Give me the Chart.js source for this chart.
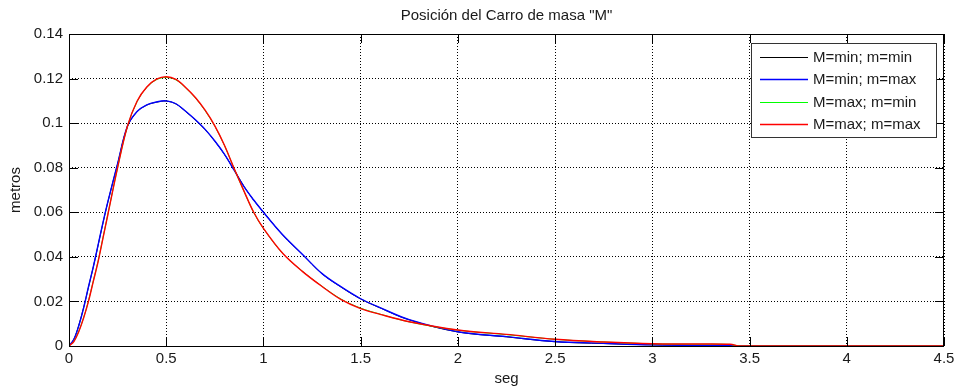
<!DOCTYPE html>
<html lang="es">
<head>
<meta charset="utf-8">
<title>Posición del Carro de masa "M"</title>
<script src="https://cdn.jsdelivr.net/npm/chart.js@4.4.0/dist/chart.umd.min.js"></script>
<style>
  html, body { margin: 0; padding: 0; background: #fff; }
  canvas { display: block; }
</style>
</head>
<body>
<canvas id="posicionChart" width="961" height="390"></canvas>
<script>
// tiempo en segundos
const tiempo = [0, 0.025, 0.05, 0.075, 0.1, 0.125, 0.15, 0.175, 0.2, 0.25, 0.3, 0.35, 0.4, 0.45, 0.5,
  0.55, 0.6, 0.65, 0.7, 0.75, 0.8, 0.85, 0.9, 0.95, 1.0, 1.1, 1.2, 1.3, 1.4, 1.5, 1.6, 1.75, 2.0,
  2.25, 2.5, 2.75, 3.0, 3.2, 3.4, 3.45, 4.0, 4.5];

// posición (metros) para cada combinación de masas
const minMin = [0, 0.003, 0.0092, 0.0172, 0.0263, 0.0355, 0.0453, 0.0553, 0.0647, 0.0817, 0.0984, 0.1051,
  0.1081, 0.1094, 0.1099, 0.1086, 0.1052, 0.1014, 0.0971, 0.0919, 0.0859, 0.0789, 0.0716, 0.0654, 0.0601,
  0.0497, 0.0411, 0.0325, 0.0264, 0.0211, 0.0171, 0.0117, 0.0063, 0.0041, 0.0019, 0.0011, 0.0005, 0.0003,
  0.0001, 0, 0, 0];
const minMax = [0, 0.003, 0.009, 0.017, 0.0265, 0.0355, 0.0455, 0.0555, 0.0648, 0.0818, 0.0985, 0.1052,
  0.1082, 0.1095, 0.11, 0.1087, 0.1053, 0.1015, 0.0972, 0.092, 0.086, 0.0788, 0.0715, 0.0655, 0.06,
  0.0498, 0.0412, 0.0326, 0.0265, 0.0212, 0.0172, 0.0118, 0.0064, 0.0042, 0.002, 0.0012, 0.0005, 0.0003,
  0.0002, 0, 0, 0];
const maxMin = [0, 0.0021, 0.0066, 0.0127, 0.0202, 0.0292, 0.0382, 0.0487, 0.0592, 0.0801, 0.0983, 0.1096,
  0.116, 0.1195, 0.1205, 0.1194, 0.1158, 0.1113, 0.1056, 0.0986, 0.0899, 0.0794, 0.0694, 0.0599, 0.0527,
  0.0414, 0.0336, 0.0269, 0.021, 0.017, 0.0143, 0.0108, 0.0071, 0.0051, 0.003, 0.0018, 0.001, 0.0008,
  0.0007, 0, 0, 0];
const maxMax = [0, 0.002, 0.0064, 0.0125, 0.02, 0.029, 0.038, 0.0485, 0.059, 0.08, 0.0985, 0.1098,
  0.1162, 0.1197, 0.1208, 0.1196, 0.116, 0.1115, 0.1058, 0.0988, 0.09, 0.0795, 0.0695, 0.06, 0.0528,
  0.0415, 0.0335, 0.0268, 0.0208, 0.0168, 0.0142, 0.0109, 0.0072, 0.0052, 0.003, 0.0018, 0.001, 0.0009,
  0.0008, 0, 0, 0];

const etiquetas = ['M=min; m=min', 'M=min; m=max', 'M=max; m=min', 'M=max; m=max'];
const colores = ['#000000', '#0000ff', '#00ff00', '#ff0000'];
const grosores = [1, 1.4, 1, 1.4];

const ticksX = [0, 0.5, 1, 1.5, 2, 2.5, 3, 3.5, 4, 4.5];
const textosX = ['0', '0.5', '1', '1.5', '2', '2.5', '3', '3.5', '4', '4.5'];
const ticksY = [0, 0.02, 0.04, 0.06, 0.08, 0.1, 0.12, 0.14];
const textosY = ['0', '0.02', '0.04', '0.06', '0.08', '0.1', '0.12', '0.14'];

const fuente = '"Liberation Sans", Arial, Helvetica, sans-serif';
const colorTexto = '#1a1a1a';

Chart.defaults.font.family = fuente;
Chart.defaults.font.size = 15;
Chart.defaults.color = colorTexto;

function serie(valores) {
  return tiempo.map((t, i) => ({ x: t, y: valores[i] }));
}

// caja de ejes y marcas hacia adentro, estilo matlab
const cajaEjes = {
  id: 'cajaEjes',
  afterDatasetsDraw(chart) {
    const { ctx, chartArea: a, scales } = chart;
    const largo = 9;
    ctx.save();
    ctx.strokeStyle = '#000';
    ctx.lineWidth = 1;
    ctx.beginPath();
    scales.x.ticks.forEach(t => {
      const px = Math.round(scales.x.getPixelForValue(t.value)) + 0.5;
      ctx.moveTo(px, a.bottom);
      ctx.lineTo(px, a.bottom - largo);
      ctx.moveTo(px, a.top);
      ctx.lineTo(px, a.top + largo);
    });
    scales.y.ticks.forEach(t => {
      const py = Math.round(scales.y.getPixelForValue(t.value)) + 0.5;
      ctx.moveTo(a.left, py);
      ctx.lineTo(a.left + largo, py);
      ctx.moveTo(a.right, py);
      ctx.lineTo(a.right - largo, py);
    });
    ctx.stroke();
    ctx.strokeRect(a.left + 0.5, a.top + 0.5, a.right - a.left - 1, a.bottom - a.top);
    ctx.restore();
  }
};

// leyenda dentro del área de la gráfica, arriba a la derecha
const leyendaInterna = {
  id: 'leyendaInterna',
  afterDraw(chart) {
    const { ctx, chartArea: a } = chart;
    const ancho = 185, alto = 94;
    const x0 = a.right - 8 - ancho;
    const y0 = a.top + 9;
    ctx.save();
    ctx.fillStyle = '#fff';
    ctx.fillRect(x0, y0, ancho, alto);
    ctx.strokeStyle = '#333';
    ctx.lineWidth = 1;
    ctx.strokeRect(x0 + 0.5, y0 + 0.5, ancho, alto);
    ctx.font = '15px ' + fuente;
    ctx.textBaseline = 'middle';
    chart.data.datasets.forEach((ds, i) => {
      const y = Math.round(y0 + 14 + i * 22.4) + 0.5;
      ctx.strokeStyle = ds.borderColor;
      ctx.lineWidth = ds.borderWidth;
      ctx.beginPath();
      ctx.moveTo(x0 + 9, y);
      ctx.lineTo(x0 + 57, y);
      ctx.stroke();
      ctx.fillStyle = colorTexto;
      ctx.fillText(ds.label, x0 + 62, y);
    });
    ctx.restore();
  }
};

const datos = [minMin, minMax, maxMin, maxMax];

new Chart(document.getElementById('posicionChart'), {
  type: 'line',
  data: {
    datasets: datos.map((valores, i) => ({
      label: etiquetas[i],
      data: serie(valores),
      borderColor: colores[i],
      backgroundColor: colores[i],
      borderWidth: grosores[i],
      pointRadius: 0,
      tension: 0.35,
      fill: false,
      // la última serie queda encima
      order: datos.length - i
    }))
  },
  options: {
    responsive: false,
    animation: false,
    devicePixelRatio: 1,
    layout: { padding: { left: 0, right: 17, top: 0, bottom: 0 } },
    plugins: {
      legend: { display: false },
      tooltip: { enabled: false },
      title: {
        display: true,
        fullSize: false,
        text: 'Posición del Carro de masa "M"',
        color: colorTexto,
        font: { size: 15, weight: 'normal' },
        padding: { top: 7, bottom: 9 }
      }
    },
    scales: {
      x: {
        type: 'linear',
        min: 0,
        max: 4.5,
        afterBuildTicks: s => { s.ticks = ticksX.map(v => ({ value: v })); },
        afterFit: s => { s.height = 44; },
        ticks: {
          padding: 4,
          maxRotation: 0,
          autoSkip: false,
          callback: (v, i) => textosX[i]
        },
        grid: { color: '#000', lineWidth: 1, drawTicks: false },
        border: { display: false, dash: [1, 2] },
        title: { display: true, text: 'seg', padding: { top: 0, bottom: 2 } }
      },
      y: {
        min: 0,
        max: 0.14,
        afterBuildTicks: s => { s.ticks = ticksY.map(v => ({ value: v })); },
        afterFit: s => { s.width = 69; },
        ticks: {
          padding: 6,
          autoSkip: false,
          callback: (v, i) => textosY[i]
        },
        grid: { color: '#000', lineWidth: 1, drawTicks: false },
        border: { display: false, dash: [1, 2] },
        title: { display: true, text: 'metros', padding: { top: 7, bottom: 0 } }
      }
    }
  },
  plugins: [cajaEjes, leyendaInterna]
});
</script>
</body>
</html>
